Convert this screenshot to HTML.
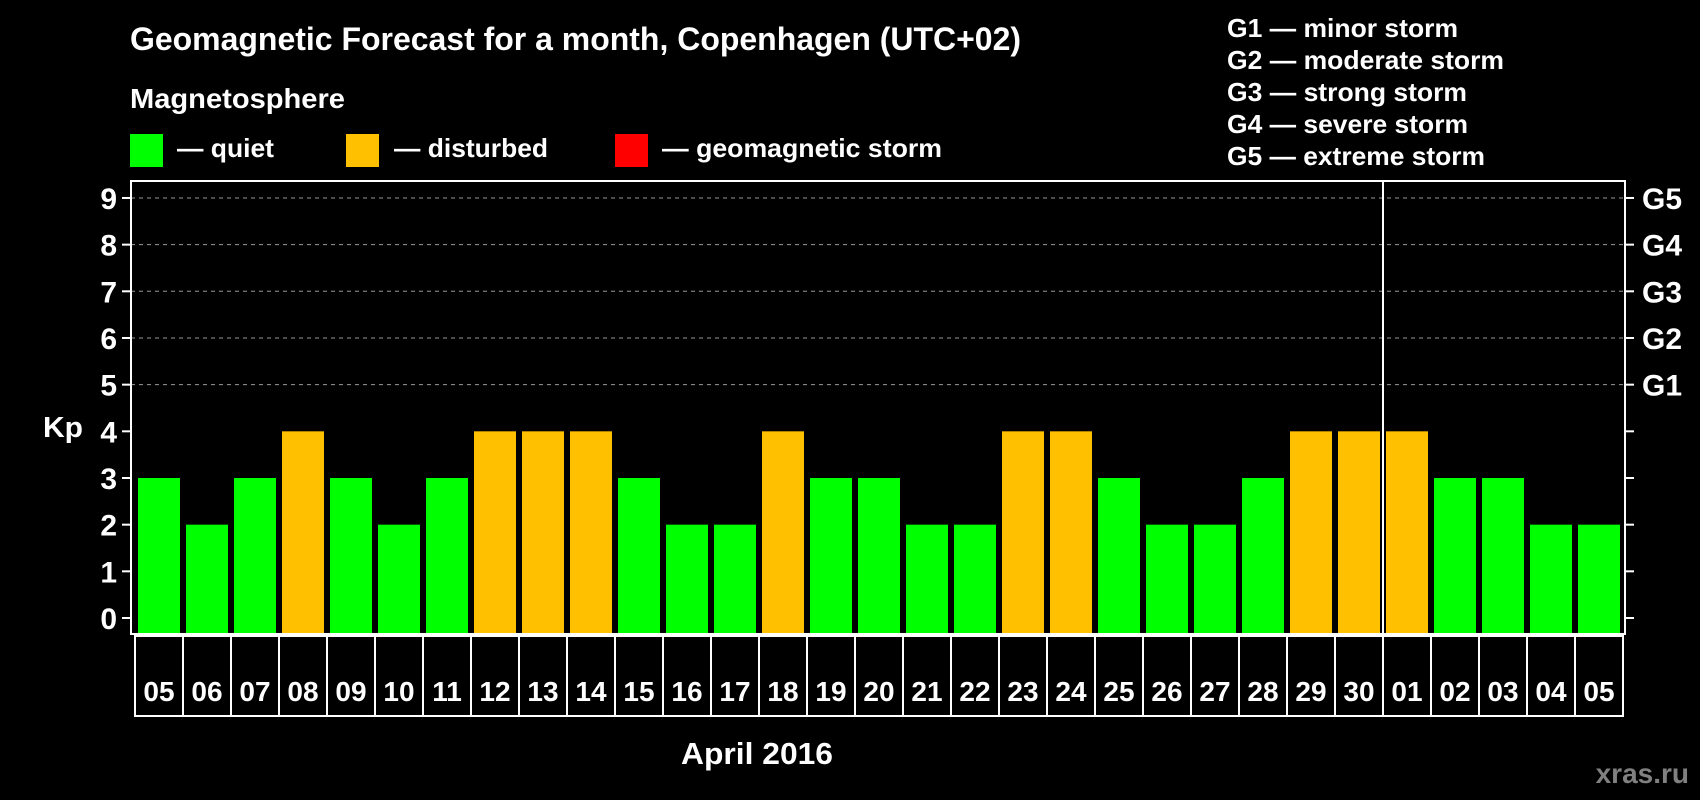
<!DOCTYPE html>
<html><head><meta charset="utf-8"><style>
html,body{margin:0;padding:0;background:#000;}
svg{display:block;font-family:"Liberation Sans",Arial,sans-serif;font-weight:bold;}
</style></head><body>
<svg id="chart" width="1700" height="800" viewBox="0 0 1700 800" xmlns="http://www.w3.org/2000/svg">
<rect width="1700" height="800" fill="#000"/>
<text x="130" y="50" fill="#fff" font-size="32" textLength="891" lengthAdjust="spacingAndGlyphs">Geomagnetic Forecast for a month, Copenhagen (UTC+02)</text>
<text x="130" y="108" fill="#fff" font-size="28" textLength="215" lengthAdjust="spacingAndGlyphs">Magnetosphere</text>
<g><rect x="130" y="134" width="33" height="33" fill="#00ff00"/><text x="177" y="157" fill="#fff" font-size="26" textLength="97" lengthAdjust="spacingAndGlyphs">— quiet</text></g>
<g><rect x="346" y="134" width="33" height="33" fill="#ffc000"/><text x="394" y="157" fill="#fff" font-size="26" textLength="154" lengthAdjust="spacingAndGlyphs">— disturbed</text></g>
<g><rect x="615" y="134" width="33" height="33" fill="#ff0000"/><text x="662" y="157" fill="#fff" font-size="26" textLength="280" lengthAdjust="spacingAndGlyphs">— geomagnetic storm</text></g>
<g fill="#fff" font-size="26">
<text x="1227" y="37" textLength="231" lengthAdjust="spacingAndGlyphs">G1 — minor storm</text>
<text x="1227" y="69" textLength="277" lengthAdjust="spacingAndGlyphs">G2 — moderate storm</text>
<text x="1227" y="101" textLength="240" lengthAdjust="spacingAndGlyphs">G3 — strong storm</text>
<text x="1227" y="133" textLength="241" lengthAdjust="spacingAndGlyphs">G4 — severe storm</text>
<text x="1227" y="165" textLength="258" lengthAdjust="spacingAndGlyphs">G5 — extreme storm</text>
</g>
<text x="43" y="437" fill="#fff" font-size="29" textLength="40" lengthAdjust="spacingAndGlyphs">Kp</text>
<text x="681" y="764" fill="#fff" font-size="31" textLength="152" lengthAdjust="spacingAndGlyphs">April 2016</text>
<text x="1689" y="783" fill="#808080" font-size="28" text-anchor="end">xras.ru</text>
<g id="plot"></g>
</svg>
<script>
const days = ["05","06","07","08","09","10","11","12","13","14","15","16","17","18","19","20","21","22","23","24","25","26","27","28","29","30","01","02","03","04","05"];
const kpValues = [3,2,3,4,3,2,3,4,4,4,3,2,2,4,3,3,2,2,4,4,3,2,2,3,4,4,4,3,3,2,2];
const yTicks = [0,1,2,3,4,5,6,7,8,9];
const gLabels = ["G1","G2","G3","G4","G5"];
const gLevels = [5,6,7,8,9];
const monthBreakIndex = 26;

const NS = "http://www.w3.org/2000/svg";
const plotG = document.getElementById('plot');
const pLeft = 131, pRight = 1625, pTop = 181, pBottom = 634;
const slotW = 48, xStart = 134;
function xs(i){ return xStart + i*slotW; }
function ys(v){ return 618 - v*46.67; }
function mk(tag, attrs){ const e=document.createElementNS(NS,tag); for(const k in attrs) e.setAttribute(k,attrs[k]); plotG.appendChild(e); return e; }

gLevels.forEach(v=>{
  const l = mk('line',{x1:pLeft,x2:pRight,y1:ys(v),y2:ys(v),stroke:'#999','stroke-dasharray':'4,4','stroke-width':1});
  
  
});
kpValues.forEach((v,i)=>{
  const b = mk('rect',{x:xs(i)+4,y:ys(v),width:42,height:pBottom-ys(v),fill:v>=5?'#ff0000':(v>=4?'#ffc000':'#00ff00')});
  
  
});
const fr = mk('rect',{x:pLeft,y:pTop,width:pRight-pLeft,height:pBottom-pTop,fill:'none',stroke:'#fff','stroke-width':2});


const mb = mk('line',{x1:xs(monthBreakIndex)+1,x2:xs(monthBreakIndex)+1,y1:pTop,y2:pBottom,stroke:'#fff','stroke-width':2});


yTicks.forEach(v=>{
  const t1 = mk('line',{x1:122,x2:131,y1:ys(v),y2:ys(v),stroke:'#fff','stroke-width':2});
  
  
  const t2 = mk('line',{x1:1625,x2:1634,y1:ys(v),y2:ys(v),stroke:'#fff','stroke-width':2});
  
  
  const tx = mk('text',{x:117,y:ys(v)+11,fill:'#fff','font-size':30,'text-anchor':'end'});
  tx.textContent = v;
  
  
});
gLabels.forEach((g,i)=>{
  const tx = mk('text',{x:1642,y:ys(gLevels[i])+11,fill:'#fff','font-size':30});
  tx.textContent = g;
  
  
});
days.forEach((d,i)=>{
  const c = mk('rect',{x:xs(i)+1,y:636,width:slotW,height:80,fill:'none',stroke:'#fff','stroke-width':2});
  
  
  const tx = mk('text',{x:xs(i)+25,y:701,fill:'#fff','font-size':28,'text-anchor':'middle'});
  tx.textContent = d;
  
  
});
</script>
</body></html>
